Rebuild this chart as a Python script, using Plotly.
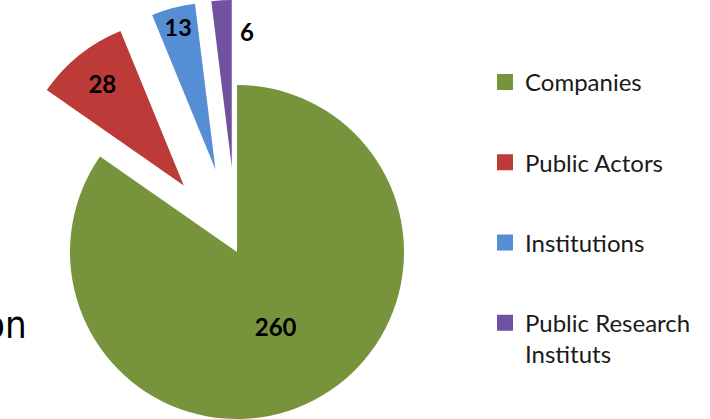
import math
import plotly.graph_objects as go

# ---- data ----
labels = ["Companies", "Public Actors", "Institutions", "Public Research Instituts"]
values = [260, 28, 13, 6]
colors = ["#77933C", "#BC3A37", "#558ED5", "#7152A0"]
pulls = [0.0, 0.51, 0.51, 0.51]
legend_text = {"Public Research Instituts": "Public Research<br>Instituts"}

# ---- layout geometry (pixels) ----
W, H = 710, 419
CX, CY, R = 237, 252, 167
LABEL_FONT = dict(family="Lato, Open Sans, sans-serif", size=24, color="#000000")

total = float(sum(values))
fig = go.Figure()

# legend carriers (tiny pies hidden under the big slice)
for i, lab in enumerate(labels):
    fig.add_trace(go.Pie(
        values=[values[i]], labels=[legend_text.get(lab, lab)],
        marker=dict(colors=[colors[i]], line=dict(color=colors[i], width=4)),
        domain=dict(x=[0.42, 0.4203], y=[0.28, 0.2805]),
        textinfo="none", hoverinfo="skip", sort=False,
        legendgroup=lab, showlegend=True,
    ))

def clamp(v):
    return min(1.0, max(0.0, v))

# exploded pie: one trace per visible slice, same data, other slices transparent
cum = 0.0
for i, lab in enumerate(labels):
    mid = (cum + values[i] / 2.0) / total
    cum += values[i]
    theta = 2 * math.pi * mid
    d = pulls[i] * R
    cx = CX + d * math.sin(theta)
    cy = CY - d * math.cos(theta)
    slice_colors = [colors[j] if j == i else "rgba(0,0,0,0)" for j in range(len(labels))]
    textpos = ["inside" if (j == i and i < 3) else "none" for j in range(len(labels))]
    fig.add_trace(go.Pie(
        values=values, labels=labels,
        marker=dict(colors=slice_colors, line=dict(width=0)),
        domain=dict(x=[clamp((cx - R) / W), clamp((cx + R) / W)],
                    y=[clamp(1 - (cy + R) / H), clamp(1 - (cy - R) / H)]),
        sort=False, direction="clockwise", rotation=0,
        texttemplate="<b>%{value}</b>", textposition=textpos,
        insidetextorientation="horizontal", textfont=LABEL_FONT,
        hoverinfo="label+value", showlegend=False,
    ))
    if i == 3:
        purple_cx, purple_cy = cx, cy

fig.add_annotation(
    x=(purple_cx + 6) / W, y=1 - (purple_cy - 0.81 * R) / H,
    xref="paper", yref="paper", xanchor="left", yanchor="middle",
    text="<b>%d</b>" % values[3], showarrow=False, font=LABEL_FONT,
)

# partial slide text at the left edge
fig.add_annotation(
    x=29 / W, y=1 - 325 / H, xref="paper", yref="paper",
    xanchor="right", yanchor="middle", text="on", showarrow=False,
    font=dict(family="Liberation Sans Narrow, DejaVu Sans Condensed, sans-serif", size=38, color="#000000"),
)

fig.update_layout(
    width=W, height=H,
    margin=dict(l=0, r=0, t=0, b=0),
    paper_bgcolor="white", plot_bgcolor="white",
    legend=dict(
        x=485 / W, y=1 - 60 / H, xanchor="left", yanchor="top",
        font=dict(family="Lato, Open Sans, sans-serif", size=24, color="#1a1a1a"),
        tracegroupgap=46, valign="top", bgcolor="rgba(0,0,0,0)",
    ),
)

fig.write_html("out.html", config={"displayModeBar": False},
               post_script="document.body.style.margin='0px';")
